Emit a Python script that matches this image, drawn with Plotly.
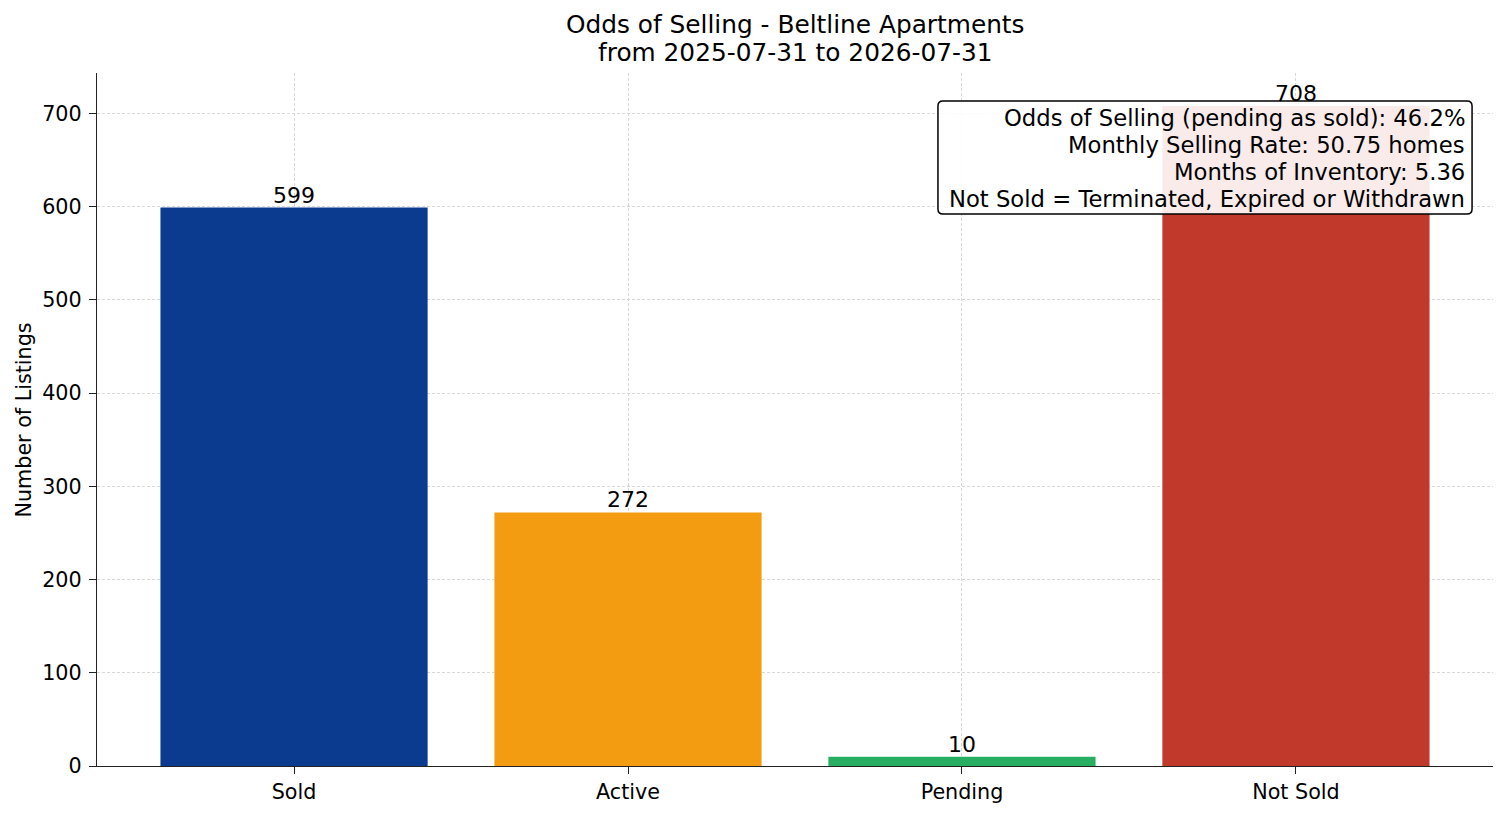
import plotly.graph_objects as go

# Listing status counts
categories = ["Sold", "Active", "Pending", "Not Sold"]
counts = [599, 272, 10, 708]
colors = ["#0b3b8f", "#f39c12", "#27ae60", "#c0392b"]
y_ticks = [0, 100, 200, 300, 400, 500, 600, 700]

title_lines = ["Odds of Selling - Beltline Apartments", "from 2025-07-31 to 2026-07-31"]
stats_lines = [
    "Odds of Selling (pending as sold): 46.2%",
    "Monthly Selling Rate: 50.75 homes",
    "Months of Inventory: 5.36",
    "Not Sold = Terminated, Expired or Withdrawn",
]

FONT = "DejaVu Sans"
GRID = "#d8d8d8"
AXC = "#222222"

fig = go.Figure()
fig.add_trace(go.Bar(
    x=list(range(len(categories))),
    y=counts,
    width=0.8,
    marker=dict(color=colors, line=dict(width=0)),
    showlegend=False,
    hoverinfo="skip",
))

# value labels above each bar
for i, v in enumerate(counts):
    fig.add_annotation(
        x=i, y=v, text=str(v), showarrow=False,
        yanchor="bottom", yshift=-2,
        font=dict(family=FONT, size=22, color="black"),
    )

# stats box (rounded rectangle, semi-transparent white)
x0, x1, y0, y1 = 0.6024, 0.985, 0.7965, 0.9596
rx, ry = 0.0036, 0.0072
box_path = (
    f"M {x0+rx},{y1} L {x1-rx},{y1} Q {x1},{y1} {x1},{y1-ry} "
    f"L {x1},{y0+ry} Q {x1},{y0} {x1-rx},{y0} "
    f"L {x0+rx},{y0} Q {x0},{y0} {x0},{y0+ry} "
    f"L {x0},{y1-ry} Q {x0},{y1} {x0+rx},{y1} Z"
)
fig.add_shape(
    type="path", path=box_path, xref="paper", yref="paper",
    fillcolor="rgba(255,255,255,0.9)", line=dict(color="black", width=1.5),
    layer="above",
)
line_y = [0.935, 0.8961, 0.8571, 0.8182]
for txt, yy in zip(stats_lines, line_y):
    fig.add_annotation(
        xref="paper", yref="paper", x=0.9812, y=yy,
        xanchor="right", yanchor="middle", text=txt, showarrow=False,
        font=dict(family=FONT, size=22.7, color="black"),
    )

# two-line title
for txt, yy in zip(title_lines, [1.0693, 1.0289]):
    fig.add_annotation(
        xref="paper", yref="paper", x=0.5, y=yy,
        xanchor="center", yanchor="middle", text=txt, showarrow=False,
        font=dict(family=FONT, size=24.8, color="black"),
    )

# y-axis title
fig.add_annotation(
    xref="paper", yref="paper", x=-0.0523, y=0.5, textangle=-90,
    xanchor="center", yanchor="middle", text="Number of Listings", showarrow=False,
    font=dict(family=FONT, size=20.7, color="black"),
)

fig.update_layout(
    width=1499, height=808,
    margin=dict(l=89, r=14, t=65, b=50),
    paper_bgcolor="white", plot_bgcolor="white",
    font=dict(family=FONT, size=20.7, color="black"),
    bargap=0.2,
)

fig.update_xaxes(
    range=[-0.59, 3.59],
    tickmode="array", tickvals=list(range(len(categories))), ticktext=categories,
    showgrid=True, gridcolor=GRID, griddash="3px,2px", gridwidth=0.8,
    showline=True, linecolor=AXC, linewidth=1.4,
    ticks="outside", ticklen=7, tickwidth=1.3, tickcolor=AXC,
    tickfont=dict(family=FONT, size=20.7), zeroline=False,
    layer="above traces",
)
fig.update_yaxes(
    range=[0, 743.4],
    tickmode="array", tickvals=y_ticks,
    showgrid=True, gridcolor=GRID, griddash="3px,2px", gridwidth=0.8,
    showline=True, linecolor=AXC, linewidth=1.4,
    ticks="outside", ticklen=7, tickwidth=1.3, tickcolor=AXC,
    tickfont=dict(family=FONT, size=20.7), zeroline=False,
    ticklabelstandoff=3,
    layer="above traces",
)

fig.write_html("out.html")
